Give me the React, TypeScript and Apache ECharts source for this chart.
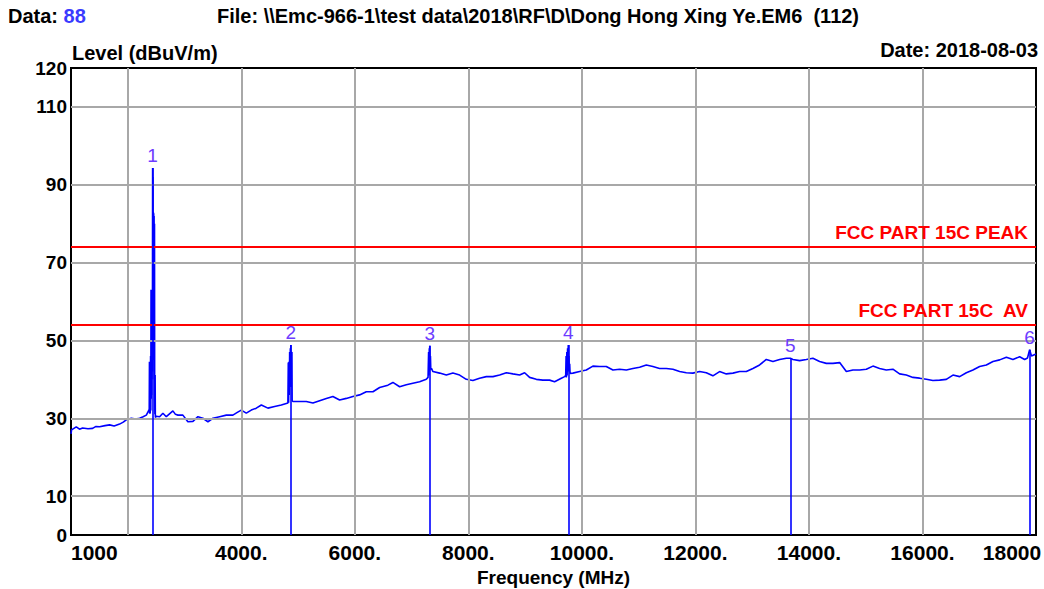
import React, { useEffect, useRef } from 'react';
import * as echarts from 'echarts';

// Trace (MHz, dBuV/m)
const freqMHz = [
  1000, 1010, 1093, 1150, 1204, 1300, 1381, 1440, 1504, 1600, 1680, 1760, 1856, 1920, 1974, 2062, 2140, 2209, 2270, 2327, 2372,
  2378, 2382, 2386, 2396, 2402, 2406, 2410, 2413, 2417, 2420, 2424, 2427, 2431, 2434, 2438, 2441, 2444, 2447, 2450, 2453, 2457, 2460, 2464, 2467, 2471, 2474, 2478, 2482, 2486,
  2500, 2561, 2619, 2679, 2740, 2795, 2840, 2883, 2971, 3059, 3148, 3236, 3324, 3412, 3500, 3618, 3736, 3852, 3930, 4000, 4088, 4176, 4264, 4353, 4469, 4587, 4705, 4821,
  4828, 4834, 4840, 4846, 4852, 4858, 4864, 4868, 4872, 4876, 4882, 4886, 4892, 4896,
  4909, 5027, 5145, 5262, 5380, 5498, 5614, 5732, 5850, 5966, 6084, 6202, 6319, 6437, 6583, 6671, 6789, 6907, 7023, 7141, 7259,
  7290, 7300, 7306, 7312, 7316, 7320, 7326, 7332, 7338, 7350,
  7376, 7494, 7612, 7728, 7846, 7964, 8080, 8198, 8316, 8433, 8551, 8669, 8785, 8903, 8991, 9079, 9197, 9313, 9431, 9519, 9638, 9696,
  9715, 9722, 9728, 9735, 9740, 9748, 9754, 9760, 9766, 9772, 9778, 9785, 9792,
  9842, 9960, 10078, 10194, 10312, 10430, 10547, 10665, 10783, 10899, 11017, 11135, 11251, 11369, 11487, 11604, 11722, 11840, 11956, 12074,
  12192, 12308, 12426, 12544, 12661, 12779, 12897, 13013, 13131, 13249, 13366, 13484, 13602, 13672, 13718, 13836, 13954, 14070, 14188, 14306,
  14423, 14541, 14659, 14775, 14893, 15011, 15127, 15245, 15363, 15479, 15597, 15715, 15832, 15950, 16068, 16184, 16302, 16420, 16537, 16655,
  16773, 16889, 17007, 17125, 17242, 17360, 17478, 17594, 17712, 17800, 17850, 17888, 17920, 18000,
];
const levelDbuv = [
  26.0, 27.0, 27.8, 27.2, 27.5, 27.3, 27.4, 27.9, 27.8, 28.1, 28.3, 28.0, 28.5, 29.0, 29.6, 30.0, 29.8, 30.0, 30.4, 30.8, 32.1,
  31.5, 44.5, 31.2, 31.5, 46.0, 32.0, 63.0, 35.0, 62.0, 36.0, 63.0, 40.0, 62.0, 42.0, 94.3, 48.0, 92.0, 52.0, 83.0, 45.0, 82.7, 46.0, 82.0, 40.0, 80.0, 35.0, 31.0, 41.1, 30.2,
  30.5, 30.4, 31.3, 30.4, 31.2, 31.9, 31.0, 30.8, 30.8, 29.1, 29.2, 30.4, 30.0, 29.1, 30.0, 30.4, 30.8, 30.8, 31.5, 32.1, 31.3, 32.1, 32.6, 33.4, 32.6, 33.0, 33.4, 33.9,
  44.3, 34.0, 44.5, 36.0, 47.0, 38.0, 48.0, 40.0, 48.8, 42.0, 47.1, 38.0, 47.0, 34.5,
  34.3, 34.3, 34.3, 33.9, 34.5, 35.1, 35.6, 34.7, 35.1, 35.6, 36.0, 36.8, 36.8, 37.9, 38.5, 39.2, 38.1, 38.6, 39.0, 39.4, 40.0,
  40.5, 47.0, 41.0, 48.0, 42.0, 48.6, 43.0, 46.0, 42.5, 42.8,
  42.0, 41.6, 41.1, 41.6, 41.1, 40.0, 39.7, 40.3, 40.7, 40.7, 41.1, 41.7, 41.4, 41.1, 41.7, 40.5, 40.0, 39.8, 39.8, 39.4, 40.3, 40.7,
  41.0, 46.0, 40.5, 47.0, 41.0, 48.0, 42.0, 48.8, 43.0, 46.0, 42.0, 44.0, 41.5,
  41.6, 42.0, 42.4, 43.4, 43.3, 43.3, 42.4, 42.6, 42.4, 42.8, 43.1, 43.7, 43.3, 42.8, 42.8, 42.6, 42.0, 41.7, 41.6, 42.0,
  41.7, 40.9, 42.0, 41.4, 41.6, 42.0, 42.0, 42.8, 43.7, 45.1, 44.6, 45.1, 45.4, 45.4, 45.1, 44.8, 45.1, 45.4, 44.6, 44.1,
  44.1, 44.3, 42.0, 42.4, 42.4, 42.6, 43.4, 42.8, 42.4, 42.6, 41.4, 41.1, 40.5, 40.3, 40.0, 39.7, 39.8, 40.0, 41.1, 40.7,
  41.7, 42.4, 43.3, 43.7, 44.6, 45.0, 45.7, 45.1, 45.8, 45.1, 45.5, 47.6, 46.0, 46.5,
];

// Markers
const markerNo = ['1', '2', '3', '4', '5', '6'];
const markerFreq = [2438, 4872, 7320, 9760, 13672, 17888];
const markerLevel = [94.3, 48.8, 48.6, 48.8, 45.4, 47.6];

// Limit lines
const limitNames = ['FCC PART 15C PEAK', 'FCC PART 15C  AV'];
const limitLevels = [74, 54];

// Axes
const xTickValues = [1000, 4000, 6000, 8000, 10000, 12000, 14000, 16000, 18000];
const xTickLabels = ['1000', '4000.', '6000.', '8000.', '10000.', '12000.', '14000.', '16000.', '18000'];
const xGridValues = [2000, 4000, 6000, 8000, 10000, 12000, 14000, 16000];
const yTickValues = [0, 10, 30, 50, 70, 90, 110, 120];
const yGridValues = [10, 30, 50, 70, 90, 110];

const FONT = '"Liberation Sans", Arial, sans-serif';

export default function App() {
  const ref = useRef<HTMLDivElement>(null);

  useEffect(() => {
    if (!ref.current) return;
    const chart = echarts.init(ref.current, null, { renderer: 'svg' });
    const trace = freqMHz.map((f, i) => [f, levelDbuv[i]]);

    const option: any = {
      animation: false,
      backgroundColor: '#ffffff',
      title: [
        {
          text: '{a|Data: }{b|88}',
          left: 8,
          top: 6,
          padding: 0,
          textStyle: {
            rich: {
              a: { fontFamily: FONT, fontSize: 20, fontWeight: 'bold', color: '#000', lineHeight: 20 },
              b: { fontFamily: FONT, fontSize: 20, fontWeight: 'bold', color: '#3a3aff', lineHeight: 20 },
            },
          },
        },
        {
          text: 'File: \\\\Emc-966-1\\test data\\2018\\RF\\D\\Dong Hong Xing Ye.EM6  (112)',
          left: 217,
          top: 6,
          padding: 0,
          textStyle: { fontFamily: FONT, fontSize: 20, fontWeight: 'bold', color: '#000', lineHeight: 20 },
        },
        {
          text: 'Date: 2018-08-03',
          right: 6,
          top: 40,
          padding: 0,
          textStyle: { fontFamily: FONT, fontSize: 20, fontWeight: 'bold', color: '#000', lineHeight: 20 },
        },
        {
          text: 'Level (dBuV/m)',
          left: 72,
          top: 43,
          padding: 0,
          textStyle: { fontFamily: FONT, fontSize: 20, fontWeight: 'bold', color: '#000', lineHeight: 20 },
        },
      ],
      grid: {
        left: 71,
        right: 8,
        top: 68,
        bottom: 54,
        outerBoundsMode: 'none',
        containLabel: false,
        show: true,
        borderColor: '#000',
        borderWidth: 2,
        backgroundColor: 'transparent',
      },
      xAxis: {
        type: 'value',
        min: 1000,
        max: 18000,
        axisLine: { show: true, onZero: false, lineStyle: { color: '#000', width: 2 } },
        axisTick: { show: false },
        splitLine: { show: false },
        axisLabel: {
          customValues: xTickValues,
          alignMinLabel: 'left',
          margin: 7,
          color: '#000',
          fontFamily: FONT,
          fontSize: 21,
          fontWeight: 'bold',
          formatter: (v: number) => {
            const i = xTickValues.indexOf(v);
            if (i < 0) return '';
            if (i === xTickValues.length - 1) return '{m|' + xTickLabels[i] + '}';
            return xTickLabels[i];
          },
          rich: {
            m: { fontFamily: FONT, fontSize: 21, fontWeight: 'bold', color: '#000', padding: [0, 48, 0, 0] },
          },
        },
        name: 'Frequency (MHz)',
        nameLocation: 'middle',
        nameGap: 31,
        nameTextStyle: { fontFamily: FONT, fontSize: 19, fontWeight: 'bold', color: '#000' },
      },
      yAxis: {
        type: 'value',
        min: 0,
        max: 120,
        axisLine: { show: true, lineStyle: { color: '#000', width: 2 } },
        axisTick: { show: false },
        splitLine: { show: false },
        axisLabel: {
          customValues: yTickValues,
          margin: 4,
          color: '#000',
          fontFamily: FONT,
          fontSize: 19,
          fontWeight: 'bold',
        },
      },
      series: [
        {
          type: 'line',
          data: [],
          z: 1,
          silent: true,
          markLine: {
            silent: true,
            symbol: ['none', 'none'],
            animation: false,
            lineStyle: { color: '#a8a8a8', width: 2, type: 'solid' },
            label: { show: false },
            emphasis: { disabled: true },
            data: [
              ...yGridValues.map((v) => ({ yAxis: v })),
              ...xGridValues.map((v) => ({ xAxis: v })),
            ],
          },
        },
        {
          type: 'line',
          data: [],
          z: 2,
          silent: true,
          markLine: {
            silent: true,
            symbol: ['none', 'none'],
            animation: false,
            lineStyle: { color: '#ff0000', width: 2, type: 'solid' },
            emphasis: { disabled: true },
            label: {
              show: true,
              position: 'insideEndTop',
              distance: [8, 5],
              formatter: '{b}',
              color: '#ff0000',
              fontFamily: FONT,
              fontSize: 19,
              fontWeight: 'bold',
            },
            data: limitLevels.map((v, i) => ({ yAxis: v, name: limitNames[i] })),
          },
        },
        {
          type: 'line',
          data: trace,
          z: 3,
          silent: true,
          showSymbol: false,
          symbol: 'none',
          lineStyle: { color: '#0000ff', width: 1.6 },
          markLine: {
            silent: true,
            symbol: ['none', 'none'],
            animation: false,
            lineStyle: { color: '#0000ff', width: 1.6, type: 'solid' },
            emphasis: { disabled: true },
            label: {
              show: true,
              position: 'end',
              distance: 3,
              formatter: '{b}',
              color: '#6d3cff',
              fontFamily: FONT,
              fontSize: 19,
            },
            data: markerFreq.map((f, i) => [
              { coord: [f, 0], name: markerNo[i] },
              { coord: [f, markerLevel[i]], name: markerNo[i] },
            ]),
          },
        },
      ],
    };

    chart.setOption(option);
    return () => chart.dispose();
  }, []);

  return (
    <div
      ref={ref}
      style={{ position: 'absolute', left: 0, top: 0, width: 1044, height: 589, background: '#fff' }}
    />
  );
}
